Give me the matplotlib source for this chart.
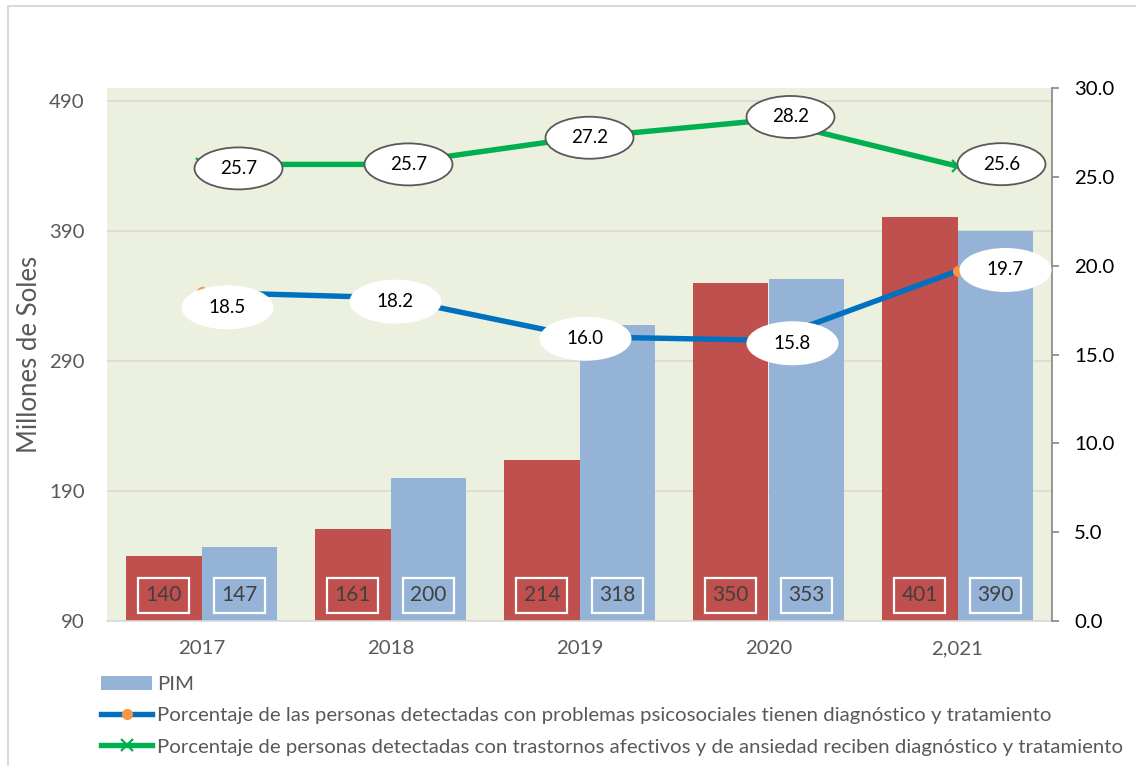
import matplotlib
matplotlib.use("Agg")
import matplotlib.pyplot as plt
from matplotlib.patches import Ellipse, Rectangle, Patch
from matplotlib.lines import Line2D
from matplotlib.transforms import ScaledTranslation
from matplotlib.ticker import FixedLocator, FormatStrFormatter

plt.rcParams['font.family'] = ['Lato', 'DejaVu Sans']

# ---- data -------------------------------------------------------------
years = ["2017", "2018", "2019", "2020", "2,021"]
pia = [140, 161, 214, 350, 401]
pim = [147, 200, 318, 353, 390]
pct_psicosociales = [18.5, 18.2, 16.0, 15.8, 19.7]
pct_afectivos = [25.7, 25.7, 27.2, 28.2, 25.6]

label_pim = "PIM"
label_psico = ("Porcentaje de las personas detectadas con problemas psicosociales "
               "tienen diagnóstico y tratamiento")
label_afect = ("Porcentaje de personas detectadas con trastornos afectivos y de "
               "ansiedad reciben diagnóstico y tratamiento")

left_ticks = [90, 190, 290, 390, 490]
right_ticks = [0, 5, 10, 15, 20, 25, 30]

# ---- style ------------------------------------------------------------
RED = '#C0504D'
LIGHTBLUE = '#95B3D7'
BG = '#EBF1DE'
BLUE = '#0070C0'
GREEN = '#00B050'
ORANGE = '#F79646'
GRAY = '#595959'
GRID = '#D9D9D9'

DPI = 100
W, H = 1136, 766
fig = plt.figure(figsize=(W / DPI, H / DPI), dpi=DPI)


def fx(px):
    return px / W


def fy(py):
    return 1 - py / H


# outer chart frame
fig.add_artist(Rectangle((fx(8), fy(780)), (1200 - 8) / W, (780 - 6) / H,
                         transform=fig.transFigure, fill=False,
                         edgecolor=GRID, lw=1.5))

ax = fig.add_axes([fx(107), fy(621), (1052 - 107) / W, (621 - 88) / H])
ax.set_facecolor(BG)
ax.set_axisbelow(True)
ax2 = ax.twinx()

x = list(range(len(years)))
bw = 0.4

ax.bar([i - bw / 2 for i in x], pia, width=bw, color=RED, zorder=2)
ax.bar([i + bw / 2 for i in x], pim, width=bw, color=LIGHTBLUE, zorder=2)

# value boxes near the base of each bar
LABEL_Y = 110
for i in x:
    for val, off, col in ((pia[i], -bw / 2, RED), (pim[i], bw / 2, LIGHTBLUE)):
        ax.text(i + off, LABEL_Y, f"{val}", ha='center', va='center',
                fontsize=15, color='#404040', zorder=4,
                bbox=dict(boxstyle='square,pad=0.36', facecolor=col,
                          edgecolor='white', lw=1.6))

ax.set_xlim(-0.5, len(years) - 0.5)
ax.set_ylim(90, 500)
ax.yaxis.set_major_locator(FixedLocator(left_ticks))
ax.grid(axis='y', color=GRID, lw=1.2)
ax.set_xticks(x)
ax.set_xticklabels(years)
ax.tick_params(axis='x', length=0, pad=14, labelsize=14.7, labelcolor=GRAY)
ax.tick_params(axis='y', length=0, pad=16, labelsize=14.7, labelcolor=GRAY)
ax.set_ylabel("Millones de Soles", fontsize=18.5, color=GRAY)
ax.yaxis.set_label_coords((42 - 107) / 945, 0.5)
for s in ('left', 'top', 'right'):
    ax.spines[s].set_visible(False)
ax.spines['bottom'].set_color(GRID)
ax.spines['bottom'].set_linewidth(1.2)

# percentage lines on the secondary axis
ax2.plot(x, pct_psicosociales, color=BLUE, lw=3.9, marker='o', markersize=7,
         markerfacecolor=ORANGE, markeredgecolor=ORANGE, zorder=3)
ax2.plot(x, pct_afectivos, color=GREEN, lw=3.9, marker='x', markersize=8,
         markeredgecolor=GREEN, markeredgewidth=1.6, zorder=3)
ax2.set_ylim(0, 30)
ax2.yaxis.set_major_locator(FixedLocator(right_ticks))
ax2.yaxis.set_major_formatter(FormatStrFormatter('%.1f'))
ax2.tick_params(axis='y', direction='out', length=5, width=1.2, color='#868686',
                pad=11, labelsize=14.7, labelcolor='black')
for s in ('left', 'top', 'bottom'):
    ax2.spines[s].set_visible(False)
ax2.spines['right'].set_color('#868686')
ax2.spines['right'].set_linewidth(1.2)

# elliptical value callouts, offsets in pixels from each point
psico_offsets = [(26, -15), (5, -4), (6, -2), (24, -3), (48, 1)]
afect_offsets = [(37, -4), (18, 0), (10, 0), (22, 3), (44, 2)]


def callout(xv, yv, text, dx, dy, w, h, edge):
    trans = fig.dpi_scale_trans + ScaledTranslation(xv, yv, ax2.transData)
    e = Ellipse((dx / DPI, dy / DPI), w / DPI, h / DPI, transform=trans,
                facecolor='white', edgecolor=edge if edge else 'none',
                lw=1.3, zorder=5, clip_on=False)
    ax2.add_patch(e)
    ax2.text(dx / DPI, dy / DPI, text, transform=trans, ha='center',
             va='center', fontsize=13.5, color='black', zorder=6)


for i in x:
    dx, dy = psico_offsets[i]
    callout(i, pct_psicosociales[i], f"{pct_psicosociales[i]:.1f}", dx, dy,
            92, 44, None)
    dx, dy = afect_offsets[i]
    callout(i, pct_afectivos[i], f"{pct_afectivos[i]:.1f}", dx, dy,
            88, 42, GRAY)

handles = [
    Patch(facecolor=LIGHTBLUE, edgecolor='none'),
    Line2D([], [], color=BLUE, lw=3.9, marker='o', markersize=7,
           markerfacecolor=ORANGE, markeredgecolor=ORANGE),
    Line2D([], [], color=GREEN, lw=3.9, marker='x', markersize=8,
           markeredgecolor=GREEN, markeredgewidth=1.6),
]
fig.legend(handles, [label_pim, label_psico, label_afect], loc='upper left',
           bbox_to_anchor=(fx(101), fy(676)), frameon=False, fontsize=14.7,
           handlelength=2.5, handletextpad=0.25, labelspacing=0.68,
           borderpad=0, borderaxespad=0, labelcolor=GRAY)

fig.savefig("out.png", dpi=DPI)
